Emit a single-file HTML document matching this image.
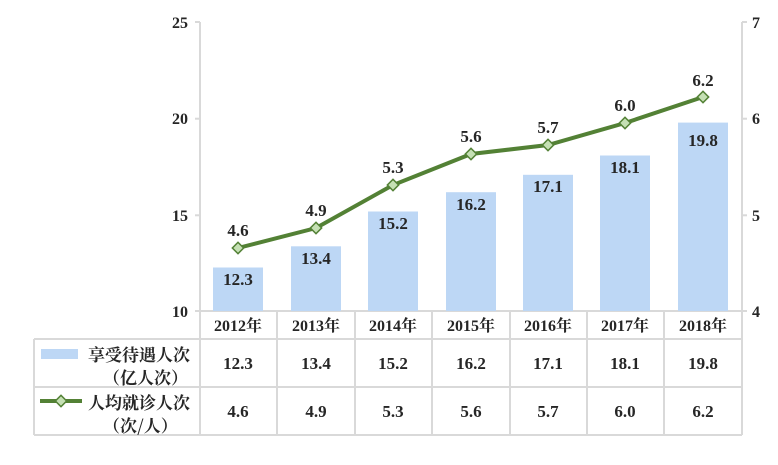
<!DOCTYPE html>
<html><head><meta charset="utf-8"><style>body{margin:0;background:#fff}</style></head><body>
<svg width="778" height="460" xmlns="http://www.w3.org/2000/svg" font-family="Liberation Serif, Noto Serif CJK SC, serif" font-weight="bold" fill="#262626">
<g stroke="#d9d9d9" stroke-width="2" fill="none">
<line x1="200" y1="22" x2="200" y2="435"/>
<line x1="195" y1="22" x2="200" y2="22"/><line x1="195" y1="118.7" x2="200" y2="118.7"/><line x1="195" y1="215.3" x2="200" y2="215.3"/><line x1="195" y1="311" x2="200" y2="311"/>
<line x1="742" y1="22" x2="742" y2="311"/>
<line x1="742" y1="22" x2="747" y2="22"/><line x1="742" y1="118.7" x2="747" y2="118.7"/><line x1="742" y1="215.3" x2="747" y2="215.3"/><line x1="742" y1="311" x2="747" y2="311"/>
<line x1="200" y1="311" x2="742" y2="311"/>
<line x1="34" y1="339" x2="742" y2="339"/>
<line x1="34" y1="387" x2="742" y2="387"/>
<line x1="34" y1="435" x2="742" y2="435"/>
<line x1="34" y1="339" x2="34" y2="435"/>
<line x1="277" y1="311" x2="277" y2="435"/><line x1="355" y1="311" x2="355" y2="435"/><line x1="432" y1="311" x2="432" y2="435"/><line x1="510" y1="311" x2="510" y2="435"/><line x1="587" y1="311" x2="587" y2="435"/><line x1="664" y1="311" x2="664" y2="435"/><line x1="742" y1="311" x2="742" y2="435"/>
</g>
<g font-size="16" text-anchor="end">
<text x="188" y="28">25</text><text x="188" y="124">20</text><text x="188" y="221">15</text><text x="188" y="317">10</text>
</g>
<g font-size="16">
<text x="752" y="28">7</text><text x="752" y="124">6</text><text x="752" y="221">5</text><text x="752" y="317">4</text>
</g>
<g fill="#bdd7f5">
<rect x="213" y="267.5" width="50" height="43.5"/>
<rect x="291" y="246.3" width="50" height="64.7"/>
<rect x="368" y="211.5" width="50" height="99.5"/>
<rect x="446" y="192.2" width="50" height="118.8"/>
<rect x="523" y="174.8" width="50" height="136.2"/>
<rect x="600" y="155.5" width="50" height="155.5"/>
<rect x="678" y="122.6" width="50" height="188.4"/>
</g>
<g font-size="17" text-anchor="middle">
<text x="238" y="285">12.3</text><text x="316" y="264">13.4</text><text x="393" y="229">15.2</text><text x="471" y="210">16.2</text><text x="548" y="192">17.1</text><text x="625" y="173">18.1</text><text x="703" y="146">19.8</text>
</g>
<polyline points="238,248 316,228 393,185 471,154 548,145 625,123 703,97" fill="none" stroke="#538135" stroke-width="4"/>
<g fill="#c5e0b4" stroke="#538135" stroke-width="1.5">
<rect x="-4" y="-4" width="8" height="8" transform="translate(238,248) rotate(45)"/>
<rect x="-4" y="-4" width="8" height="8" transform="translate(316,228) rotate(45)"/>
<rect x="-4" y="-4" width="8" height="8" transform="translate(393,185) rotate(45)"/>
<rect x="-4" y="-4" width="8" height="8" transform="translate(471,154) rotate(45)"/>
<rect x="-4" y="-4" width="8" height="8" transform="translate(548,145) rotate(45)"/>
<rect x="-4" y="-4" width="8" height="8" transform="translate(625,123) rotate(45)"/>
<rect x="-4" y="-4" width="8" height="8" transform="translate(703,97) rotate(45)"/>
</g>
<g font-size="17" text-anchor="middle">
<text x="238" y="236">4.6</text><text x="316" y="216">4.9</text><text x="393" y="173">5.3</text><text x="471" y="142">5.6</text><text x="548" y="133">5.7</text><text x="625" y="111">6.0</text><text x="703" y="86">6.2</text>
</g>
<g font-size="16" text-anchor="middle">
<text x="238" y="331">2012年</text><text x="316" y="331">2013年</text><text x="393" y="331">2014年</text><text x="471" y="331">2015年</text><text x="548" y="331">2016年</text><text x="625" y="331">2017年</text><text x="703" y="331">2018年</text>
</g>
<g font-size="17" text-anchor="middle">
<text x="238" y="369">12.3</text><text x="316" y="369">13.4</text><text x="393" y="369">15.2</text><text x="471" y="369">16.2</text><text x="548" y="369">17.1</text><text x="625" y="369">18.1</text><text x="703" y="369">19.8</text>
<text x="238" y="417">4.6</text><text x="316" y="417">4.9</text><text x="393" y="417">5.3</text><text x="471" y="417">5.6</text><text x="548" y="417">5.7</text><text x="625" y="417">6.0</text><text x="703" y="417">6.2</text>
</g>
<rect x="41" y="349" width="37" height="10" fill="#bdd7f5"/>
<line x1="40" y1="401" x2="82" y2="401" stroke="#538135" stroke-width="4"/>
<rect x="-4" y="-4" width="8" height="8" transform="translate(61,401) rotate(45)" fill="#c5e0b4" stroke="#538135" stroke-width="1.5"/>
<g font-size="17" font-family="Noto Serif CJK SC, serif">
<text x="88" y="361">享受待遇人次</text><text x="103" y="384">（亿人次）</text>
<text x="88" y="409">人均就诊人次</text><text x="103" y="432">（次/人）</text>
</g>
</svg>
</body></html>
